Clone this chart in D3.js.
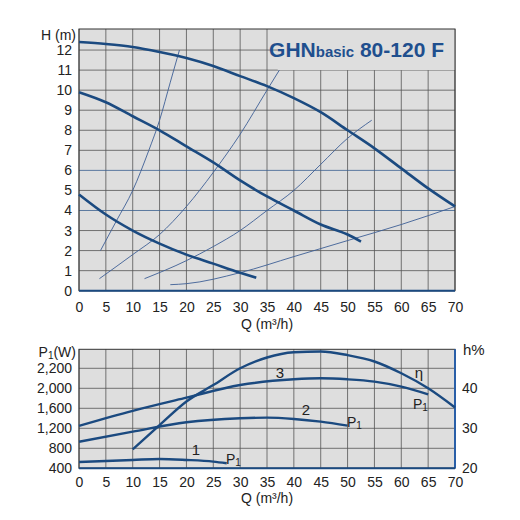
<!DOCTYPE html><html><head><meta charset="utf-8"><script src="https://d3js.org/d3.v7.min.js"></script>
<style>body{margin:0;background:#fff}text{font-family:Arial,"Liberation Sans",sans-serif}</style></head><body><svg id="c" width="520" height="520"></svg>
<script>
const qTicks=[0,5,10,15,20,25,30,35,40,45,50,55,60,65,70];
const hTicks=[0,1,2,3,4,5,6,7,8,9,10,11,12];
const curve3=[[0,12.4],[5,12.3],[10,12.15],[15,11.9],[20,11.6],[25,11.2],[30,10.7],[35,10.2],[40,9.6],[45,8.9],[50,8.0],[55,7.1],[60,6.1],[65,5.1],[70,4.2]];
const curve2=[[0,9.9],[5,9.4],[10,8.7],[15,8.0],[20,7.2],[25,6.4],[30,5.5],[35,4.7],[40,4.0],[45,3.3],[50,2.8],[52.5,2.45]];
const curve1=[[0,4.8],[5,3.8],[10,3.0],[15,2.35],[20,1.8],[25,1.35],[30,0.9],[33,0.65]];
const sysA=[[4,2],[7,3.5],[10,5],[13,7],[15,8.5],[17,10.4],[18.7,12]];
const sysB=[[3.8,0.6],[10,1.8],[15,2.8],[20,4.2],[25,5.9],[30,7.8],[35,10.0],[37.3,11]];
const sysC=[[12.2,0.6],[20,1.5],[25,2.2],[30,3.0],[35,4.0],[40,5.0],[45,6.3],[50,7.6],[54.5,8.5]];
const sysD=[[17,0.3],[20,0.35],[30,0.9],[40,1.7],[50,2.5],[60,3.3],[70,4.2]];
const pTicks=[400,800,1200,1600,2000,2200];
const effTicks=[20,30,40];
const p3=[[0,1250],[10,1550],[20,1813],[30,2033],[40,2090],[45,2100],[50,2090],[55,2067],[60,2017],[65,1880]];
const p2=[[0,930],[10,1133],[20,1320],[30,1400],[35,1413],[40,1387],[45,1333],[50,1253]];
const p1=[[0,527],[10,567],[15,587],[20,567],[25,533],[27.5,500]];
const eff=[[10,24.75],[15,30.8],[20,36.7],[25,40.8],[30,45],[35,47.7],[40,49],[45,49.2],[50,48.3],[55,46.7],[60,43.75],[65,40],[70,35.2]];

const svg=d3.select("#c");
const blue="#1b4a80", grid="#555";
const x=d3.scaleLinear().domain([0,70]).range([79,455]);
const y=d3.scaleLinear().domain([0,13.05]).range([290.7,29]);
// top panel
svg.append("rect").attr("x",x(0)).attr("y",y(13.05)).attr("width",x(70)-x(0)).attr("height",y(0)-y(13.05)).attr("fill","#dedede");
qTicks.forEach(q=>svg.append("line").attr("x1",x(q)).attr("x2",x(q)).attr("y1",y(0)).attr("y2",y(13.05)).attr("stroke",grid).attr("stroke-width",0.8));
hTicks.forEach(h=>svg.append("line").attr("x1",x(0)).attr("x2",x(70)).attr("y1",y(h)).attr("y2",y(h)).attr("stroke",(h==4||h==6)?"#3a5f8f":grid).attr("stroke-width",0.8));
svg.append("rect").attr("x",x(37)).attr("y",y(13.05)).attr("width",x(70)-x(37)).attr("height",y(11)-y(13.05)).attr("fill","#dedede");
svg.append("rect").attr("x",x(0)).attr("y",y(13.05)).attr("width",x(70)-x(0)).attr("height",y(0)-y(13.05)).attr("fill","none").attr("stroke","#333").attr("stroke-width",1);
svg.append("line").attr("x1",x(0)).attr("x2",x(70)).attr("y1",y(0)).attr("y2",y(0)).attr("stroke",blue).attr("stroke-width",2);
const lineT=d3.line().x(d=>x(d[0])).y(d=>y(d[1])).curve(d3.curveMonotoneX);
[sysA,sysB,sysC,sysD].forEach(s=>svg.append("path").attr("d",lineT(s)).attr("fill","none").attr("stroke","#3d5f95").attr("stroke-width",0.9));
[curve3,curve2,curve1].forEach(s=>svg.append("path").attr("d",lineT(s)).attr("fill","none").attr("stroke",blue).attr("stroke-width",2.6));
const gx=svg.append("g").attr("transform",`translate(0,${y(0)})`).call(d3.axisBottom(x).tickValues(qTicks).tickSize(0).tickPadding(11));
const gy=svg.append("g").attr("transform",`translate(${x(0)},0)`).call(d3.axisLeft(y).tickValues(hTicks).tickSize(0).tickPadding(7));
[gx,gy].forEach(g=>{g.select(".domain").remove();g.selectAll("text").attr("font-size",14).attr("fill","#222")});
svg.append("text").attr("x",76).attr("y",40).attr("text-anchor","end").attr("font-size",14).attr("fill","#222").text("H (m)");
svg.append("text").attr("x",267).attr("y",329).attr("text-anchor","middle").attr("font-size",14).attr("fill","#222").text("Q (m³/h)");
const t=svg.append("text").attr("x",444).attr("y",57).attr("text-anchor","end").attr("font-weight","bold").attr("fill","#1f4f8e").attr("font-size",21);
t.append("tspan").text("GHN");t.append("tspan").attr("font-size",15).text("basic");t.append("tspan").text(" 80-120 F");

// bottom panel
const x2=d3.scaleLinear().domain([0,70]).range([79,455]);
const yp=d3.scaleLinear().domain([400,800,1200,1600,2000,2200,2390]).range([468.3,448.3,428.3,408.3,388.3,368.3,349.3]);
const ye=d3.scaleLinear().domain([20,49.75]).range([468.3,349.3]);
svg.append("rect").attr("x",x2(0)).attr("y",349.3).attr("width",376).attr("height",119).attr("fill","#dedede");
qTicks.forEach(q=>svg.append("line").attr("x1",x2(q)).attr("x2",x2(q)).attr("y1",349.3).attr("y2",468.3).attr("stroke",grid).attr("stroke-width",0.8));
pTicks.forEach(p=>svg.append("line").attr("x1",x2(0)).attr("x2",x2(70)).attr("y1",yp(p)).attr("y2",yp(p)).attr("stroke",grid).attr("stroke-width",0.8));
svg.append("rect").attr("x",x2(0)).attr("y",349.3).attr("width",376).attr("height",119).attr("fill","none").attr("stroke","#333");
svg.append("line").attr("x1",x2(70)).attr("x2",x2(70)).attr("y1",349.3).attr("y2",468.3).attr("stroke","#2a5fa8").attr("stroke-width",2);
svg.append("line").attr("x1",x2(0)).attr("x2",x2(70)).attr("y1",468.3).attr("y2",468.3).attr("stroke",blue).attr("stroke-width",2);
const lineP=d3.line().x(d=>x2(d[0])).y(d=>yp(d[1])).curve(d3.curveMonotoneX);
const lineE=d3.line().x(d=>x2(d[0])).y(d=>ye(d[1])).curve(d3.curveMonotoneX);
[p3,p2,p1].forEach(s=>svg.append("path").attr("d",lineP(s)).attr("fill","none").attr("stroke",blue).attr("stroke-width",2.4));
svg.append("path").attr("d",lineE(eff)).attr("fill","none").attr("stroke",blue).attr("stroke-width",2.4);
const bx=svg.append("g").attr("transform",`translate(0,468.3)`).call(d3.axisBottom(x2).tickValues(qTicks).tickSize(0).tickPadding(9));
const by=svg.append("g").attr("transform",`translate(${x2(0)},0)`).call(d3.axisLeft(yp).tickValues(pTicks).tickSize(0).tickPadding(7));
const be=svg.append("g").attr("transform",`translate(${x2(70)},0)`).call(d3.axisRight(ye).tickValues(effTicks).tickSize(0).tickPadding(7));
[bx,by,be].forEach(g=>{g.select(".domain").remove();g.selectAll("text").attr("font-size",14).attr("fill","#222")});
const pl=svg.append("text").attr("x",76).attr("y",357).attr("text-anchor","end").attr("font-size",14).attr("fill","#222");
pl.append("tspan").text("P");pl.append("tspan").attr("font-size",10).attr("dy",2).text("1");pl.append("tspan").attr("dy",-2).text("(W)");
svg.append("text").attr("x",463).attr("y",355).attr("font-size",15).attr("fill","#222").text("h%");
svg.append("text").attr("x",267).attr("y",503).attr("text-anchor","middle").attr("font-size",14).attr("fill","#222").text("Q (m³/h)");
function lab(tx,px,py){svg.append("text").attr("x",px).attr("y",py).attr("text-anchor","middle").attr("font-size",15).attr("fill","#222").text(tx);}
lab("3",280,378);lab("2",306,415);lab("1",196,455);lab("η",419,378);
function p1l(px,py){const e=svg.append("text").attr("x",px).attr("y",py).attr("font-size",14).attr("fill","#222");e.append("tspan").text("P");e.append("tspan").attr("font-size",10).attr("dy",2).text("1");}
p1l(347,427);p1l(226,464);p1l(413,409);
</script></body></html>
